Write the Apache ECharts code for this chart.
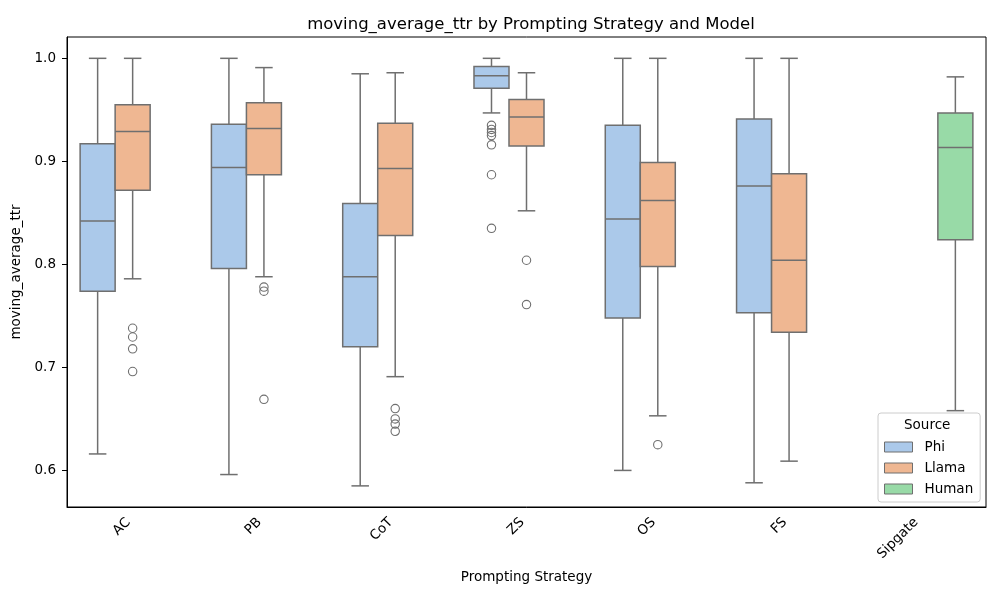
<!DOCTYPE html>
<html>
<head>
<meta charset="utf-8">
<script src="https://cdn.jsdelivr.net/npm/echarts@6/dist/echarts.min.js"></script>
<style>
  html, body { margin: 0; padding: 0; background: #fff; }
  #main { width: 1000px; height: 600px; }
</style>
</head>
<body>
<div id="main"></div>
<script>
var mychart = echarts.init(document.getElementById('main'));

// categories on the x axis
var strategies = ['AC', 'PB', 'CoT', 'ZS', 'OS', 'FS', 'Sipgate'];

// each box: [lower whisker, Q1, median, Q3, upper whisker], null where the source has no data
var phiBox = [
    [0.616, 0.774, 0.842, 0.917, 1.000],
    [0.596, 0.796, 0.894, 0.936, 1.000],
    [0.585, 0.720, 0.788, 0.859, 0.985],
    [0.947, 0.971, 0.983, 0.992, 1.000],
    [0.600, 0.748, 0.844, 0.935, 1.000],
    [0.588, 0.753, 0.876, 0.941, 1.000],
    null
];
var llamaBox = [
    [0.786, 0.872, 0.929, 0.955, 1.000],
    [0.788, 0.887, 0.932, 0.957, 0.991],
    [0.691, 0.828, 0.893, 0.937, 0.986],
    [0.852, 0.915, 0.943, 0.960, 0.986],
    [0.653, 0.798, 0.862, 0.899, 1.000],
    [0.609, 0.734, 0.804, 0.888, 1.000],
    null
];
var humanBox = [null, null, null, null, null, null,
    [0.658, 0.824, 0.9135, 0.947, 0.982]];

// outliers: [category index, value]
var phiOutliers = [
    [3, 0.935], [3, 0.931], [3, 0.928], [3, 0.925], [3, 0.916], [3, 0.887], [3, 0.835]
];
var llamaOutliers = [
    [0, 0.738], [0, 0.7295], [0, 0.718], [0, 0.696],
    [1, 0.778], [1, 0.774], [1, 0.669],
    [2, 0.660], [2, 0.650], [2, 0.645], [2, 0.638],
    [3, 0.804], [3, 0.761],
    [4, 0.625]
];

var yTicks = [0.6, 0.7, 0.8, 0.9, 1.0];

var lineColor = '#6f6f6f';
var font = 'DejaVu Sans';

function boxData(arr) {
    var out = [];
    for (let i = 0; i < arr.length; i++) {
        if (arr[i]) out.push([i].concat(arr[i]));
    }
    return out;
}

// slot: -1 = Phi, 0 = Llama, +1 = Human (hue dodge with three levels)
function boxRender(slot) {
    return function (params, api) {
        var cat = api.value(0);
        var w = api.size([1, 0])[0] * 0.8 / 3;
        var cx = api.coord([cat, 0])[0] + slot * w;
        var y = function (i) { return api.coord([cat, api.value(i)])[1]; };
        var lo = y(1), q1 = y(2), med = y(3), q3 = y(4), hi = y(5);
        var st = { stroke: lineColor, lineWidth: 1.5 };
        return {
            type: 'group',
            children: [
                { type: 'line', shape: { x1: cx, y1: q3, x2: cx, y2: hi }, style: st },
                { type: 'line', shape: { x1: cx, y1: q1, x2: cx, y2: lo }, style: st },
                { type: 'line', shape: { x1: cx - w / 4, y1: hi, x2: cx + w / 4, y2: hi }, style: st },
                { type: 'line', shape: { x1: cx - w / 4, y1: lo, x2: cx + w / 4, y2: lo }, style: st },
                { type: 'rect', shape: { x: cx - w / 2, y: q3, width: w, height: q1 - q3 },
                  style: { fill: api.visual('color'), stroke: lineColor, lineWidth: 1.5 } },
                { type: 'line', shape: { x1: cx - w / 2, y1: med, x2: cx + w / 2, y2: med }, style: st }
            ]
        };
    };
}

function outlierRender(slot) {
    return function (params, api) {
        var cat = api.value(0);
        var w = api.size([1, 0])[0] * 0.8 / 3;
        var p = api.coord([cat, api.value(1)]);
        return {
            type: 'circle',
            shape: { cx: p[0] + slot * w, cy: p[1], r: 4.2 },
            style: { fill: 'none', stroke: lineColor, lineWidth: 1.1 }
        };
    };
}

var colors = { Phi: '#abc9ea', Llama: '#efb792', Human: '#98daa7' };

var series = [
    { name: 'Phi', type: 'custom', renderItem: boxRender(-1), data: boxData(phiBox),
      encode: { x: 0, y: [1, 2, 3, 4, 5] }, itemStyle: { color: colors.Phi } },
    { name: 'Llama', type: 'custom', renderItem: boxRender(0), data: boxData(llamaBox),
      encode: { x: 0, y: [1, 2, 3, 4, 5] }, itemStyle: { color: colors.Llama } },
    { name: 'Human', type: 'custom', renderItem: boxRender(1), data: boxData(humanBox),
      encode: { x: 0, y: [1, 2, 3, 4, 5] }, itemStyle: { color: colors.Human } },
    { name: 'Phi', type: 'custom', renderItem: outlierRender(-1), data: phiOutliers,
      encode: { x: 0, y: 1 }, itemStyle: { color: colors.Phi } },
    { name: 'Llama', type: 'custom', renderItem: outlierRender(0), data: llamaOutliers,
      encode: { x: 0, y: 1 }, itemStyle: { color: colors.Llama } }
];

var legendItems = ['Phi', 'Llama', 'Human'].map(function (n) {
    return { name: n, icon: 'rect',
             itemStyle: { color: colors[n], borderColor: lineColor, borderWidth: 1 } };
});

var option = {
    animation: false,
    backgroundColor: '#ffffff',
    textStyle: { fontFamily: font },
    title: {
        text: 'moving_average_ttr by Prompting Strategy and Model',
        left: 526, top: 11, textAlign: 'center',
        textStyle: { fontFamily: font, fontSize: 16.5, fontWeight: 'normal', color: '#000' }
    },
    grid: {
        left: 67, right: 14, top: 37, bottom: 93,
        show: true, borderColor: '#000', borderWidth: 1, backgroundColor: 'transparent'
    },
    legend: {
        orient: 'vertical',
        left: 878, top: 413,
        padding: [27, 7, 6, 6],
        itemWidth: 28, itemHeight: 10, itemGap: 7,
        backgroundColor: 'rgba(255,255,255,0.8)',
        borderColor: '#cccccc', borderWidth: 1, borderRadius: 3,
        textStyle: { fontFamily: font, fontSize: 13.5, color: '#000', lineHeight: 14, padding: [0, 0, 0, 7] },
        data: legendItems,
        selectedMode: false
    },
    graphic: [{
        type: 'text', left: 904, top: 418, z: 100,
        style: { text: 'Source', font: '13.5px "DejaVu Sans"', fill: '#000' }
    }],
    xAxis: {
        type: 'category',
        data: strategies,
        name: 'Prompting Strategy',
        nameLocation: 'middle',
        nameGap: 63,
        nameTextStyle: { fontFamily: font, fontSize: 13.5, color: '#000' },
        axisLine: { lineStyle: { color: '#000', width: 1 } },
        axisTick: { alignWithLabel: true, length: 5, lineStyle: { color: '#000' } },
        axisLabel: { rotate: 45, fontFamily: font, fontSize: 13.5, color: '#000', margin: 9,
                     padding: [0, 6, 0, 0] },
        splitLine: { show: false }
    },
    yAxis: {
        type: 'value',
        min: 0.5645, max: 1.0207,
        name: 'moving_average_ttr',
        nameLocation: 'middle',
        nameRotate: 90,
        nameGap: 35,
        nameTextStyle: { fontFamily: font, fontSize: 13.5, color: '#000' },
        axisLine: { show: true, lineStyle: { color: '#000', width: 1 } },
        axisTick: { show: true, length: 5, lineStyle: { color: '#000' }, customValues: yTicks },
        axisLabel: { fontFamily: font, fontSize: 13.5, color: '#000', margin: 11,
                     customValues: yTicks,
                     formatter: function (v) { return v.toFixed(1); } },
        splitLine: { show: false }
    },
    series: series
};

mychart.setOption(option);
</script>
</body>
</html>
